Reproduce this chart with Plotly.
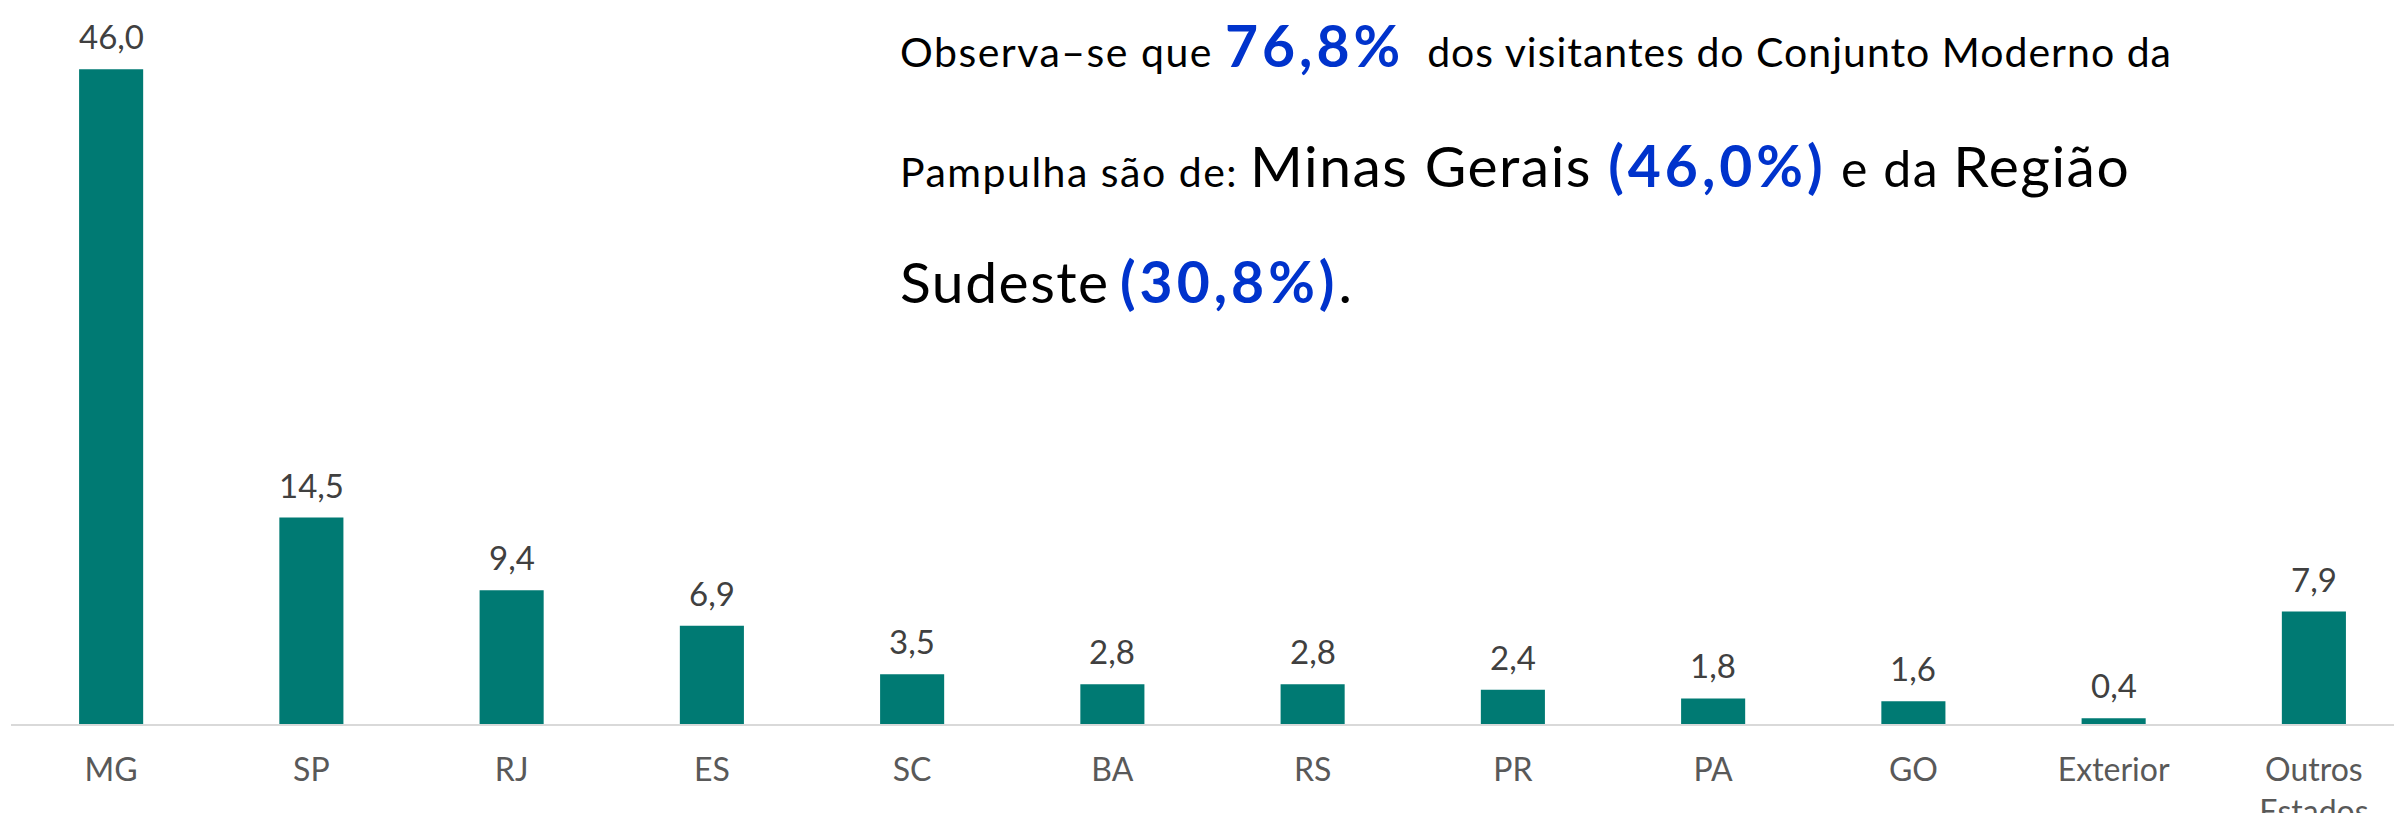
import plotly.graph_objects as go

categories = ["MG", "SP", "RJ", "ES", "SC", "BA", "RS", "PR", "PA", "GO", "Exterior", "Outros<br>Estados"]
values = [46.0, 14.5, 9.4, 6.9, 3.5, 2.8, 2.8, 2.4, 1.8, 1.6, 0.4, 7.9]
value_labels = [f"{v:.1f}".replace(".", ",") for v in values]

BAR = "#007A73"
BLUE = "#0033CC"
FONT = "Lato, 'Open Sans', sans-serif"

# the page shifts the figure 8px to the right, so it is made 8px narrower
W, H = 2394, 813
ML, MR, MT, MB = 3, 0, 20, 97

xs = list(range(len(categories)))

fig = go.Figure(go.Bar(
    x=xs,
    y=values,
    marker=dict(color=BAR, line=dict(width=0)),
    hoverinfo="skip",
))

# value labels above the bars, positioned on the data scale
for xi, v, lab in zip(xs, values, value_labels):
    fig.add_annotation(
        x=xi, y=v, xref="x", yref="y", text=lab, showarrow=False,
        yanchor="bottom", yshift=11,
        font=dict(family=FONT, size=33, color="#404040"),
    )

fig.update_layout(
    width=W, height=H,
    margin=dict(l=ML, r=MR, t=MT, b=MB),
    paper_bgcolor="white", plot_bgcolor="white",
    bargap=0.68,
    showlegend=False,
    font=dict(family=FONT),
)
fig.update_xaxes(
    tickmode="array", tickvals=xs, ticktext=categories,
    range=[-0.5, 11.44],
    showgrid=False, zeroline=False,
    showline=True, linecolor="#D9D9D9", linewidth=2,
    ticks="outside", ticklen=17, tickcolor="rgba(0,0,0,0)",
    tickfont=dict(family=FONT, size=32, color="#595959"),
    automargin=False,
)
fig.update_yaxes(range=[0, 48.9], visible=False, showgrid=False, zeroline=False)

ph = H - MT - MB
pw = W - ML - MR

def px(x):
    return (x - ML) / pw

def py(y):
    return (H - MB - y) / ph

S, M, L, B = 41, 50, 57, 57
sp = "letter-spacing:1.5px"
sp1 = "letter-spacing:1.0px"
bsp = "letter-spacing:4px"
line1 = (f"<span style='font-size:{S}px;{sp}'>Observa–se que </span>"
         f"<span style='font-size:{B}px;color:{BLUE};{bsp}'><b>76,8%</b></span>"
         f"<span style='font-size:{S}px;{sp1}'>  dos visitantes do Conjunto Moderno da</span>")
line2 = (f"<span style='font-size:{S}px;{sp}'>Pampulha são de: </span>"
         f"<span style='font-size:{L}px;{sp}'>Minas Gerais </span>"
         f"<span style='font-size:{B}px;color:{BLUE};{bsp}'><b>(46,0%)</b></span>"
         f"<span style='font-size:{M}px;{sp}'> e da </span>"
         f"<span style='font-size:{L}px;{sp}'>Região</span>")
line3 = (f"<span style='font-size:{L}px;{sp}'>Sudeste</span>"
         f"<span style='font-size:40px'> </span>"
         f"<span style='font-size:{B}px;color:{BLUE};{bsp}'><b>(30,8%)</b></span>"
         f"<span style='font-size:{L}px;{sp}'>.</span>")

for txt, base in [(line1, 61), (line2, 181), (line3, 297)]:
    fig.add_annotation(
        xref="paper", yref="paper", x=px(890), y=py(base + 12),
        xanchor="left", yanchor="bottom", showarrow=False,
        text=txt, align="left",
        font=dict(family=FONT, size=S, color="black"),
    )

fig.write_html("out.html")
